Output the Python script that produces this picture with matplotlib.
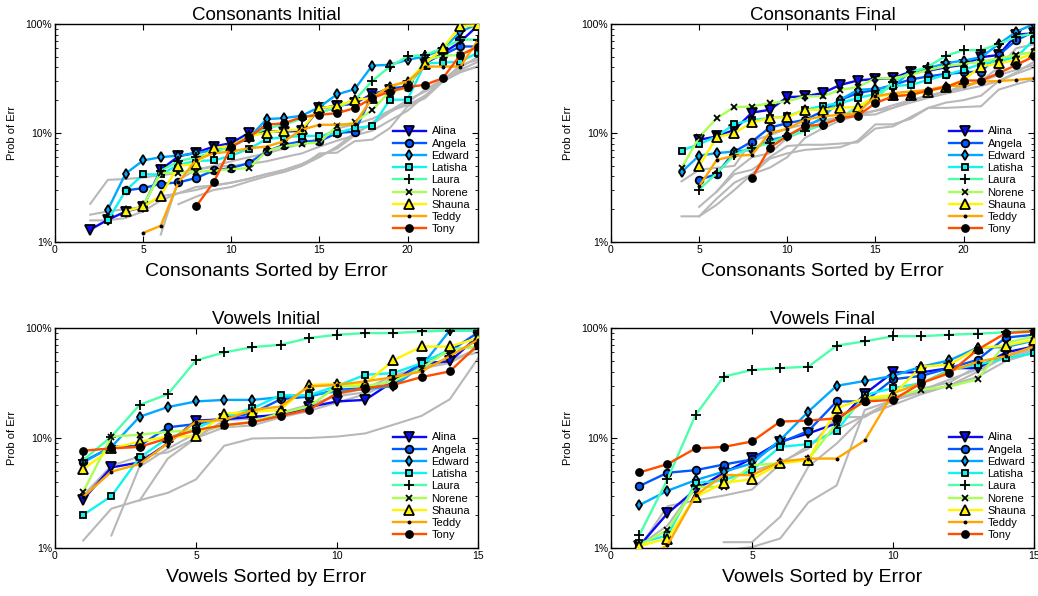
import numpy as np
import matplotlib
matplotlib.use("Agg")
import matplotlib.pyplot as plt
from matplotlib.ticker import LogLocator, NullFormatter

plt.rcParams['font.family'] = ['Liberation Sans', 'DejaVu Sans']

speakers = ["Alina", "Angela", "Edward", "Latisha", "Laura", "Norene", "Shauna", "Teddy", "Tony"]

# ---- Consonants Initial (percent error, series end at x=24) ----
ci_alina = [1.3, 1.6, 1.9, 2.1, 4.6, 6.1, 6.6, 7.5, 8.1, 10.0, 10.3, 10.3, 10.5, 16.9, 17.7, 18.7, 22.8, 24.9, 27.0, 43.6, 53.7, 68.7, 97]
ci_angela = [2.97, 3.12, 3.42, 3.52, 3.86, 4.53, 4.76, 5.3, 6.77, 7.8, 8.4, 8.4, 10.0, 10.3, 22.4, 25.8, 26.4, 45.2, 52, 62.2, 62.2]
ci_edward = [1.98, 4.23, 5.6, 6.0, 6.2, 6.5, 7.0, 7.5, 9.0, 13.4, 13.7, 14.4, 17.3, 22.6, 25.2, 41.6, 42.2, 46.9, 50.4, 58.6, 85, 100]
ci_latisha = [1.58, 2.95, 4.17, 4.17, 5.1, 5.55, 5.6, 6.18, 7.17, 8.78, 9.15, 9.4, 9.4, 10.0, 11.1, 11.6, 20.2, 20.2, 43.6, 44.2, 45.2, 54.7]
ci_laura = [2.1, 4.5, 5.5, 6.0, 6.6, 7.6, 9.5, 11.0, 12.0, 13.5, 15.5, 17.0, 20.0, 30.0, 40.7, 50.4, 52.0, 60.0, 72.0, 72.0]
ci_norene = [2.15, 4.3, 4.34, 4.4, 4.5, 4.66, 4.76, 6.8, 7.6, 7.96, 8.2, 11.6, 12.5, 16.3, 24.0, 25.8, 46.9, 51, 52, 62]
ci_shauna = [1.91, 2.12, 2.66, 5.0, 5.2, 7.3, 7.6, 9.3, 10.1, 10.5, 10.8, 16.9, 17.7, 20.2, 20.9, 26.6, 29.6, 43.0, 60, 96, 97]
ci_teddy = [1.21, 1.41, 3.52, 5.67, 6.5, 6.77, 7.25, 7.5, 8.4, 10.7, 11.9, 11.9, 12.1, 20.9, 27, 29.6, 40.7, 40.7, 40.7, 71]
ci_tony = [2.12, 3.52, 7.5, 9.15, 11.9, 12.3, 14.0, 14.7, 15.2, 16.9, 20.9, 24, 26.4, 27.7, 31.8, 52, 62]
ci_grey = [
    [2.24, 3.72, 3.78, 3.9, 4.1, 4.3, 4.6, 4.9, 5.0, 5.2, 5.5, 6.0, 6.5, 7.5, 8.5, 9.5, 10.5, 13, 16, 22, 30, 38, 45],
    [1.78, 1.91, 2.0, 2.1, 2.62, 2.8, 3.0, 3.3, 3.5, 3.8, 4.2, 4.6, 5.2, 6.2, 7.2, 9.5, 12.5, 16, 18, 22, 30, 36, 41],
    [1.58, 1.58, 1.66, 1.91, 2.4, 2.8, 3.2, 3.3, 3.5, 3.8, 4.2, 4.4, 5.0, 6.5, 6.6, 8.4, 8.7, 11.1, 17.5, 20.9, 29.5, 36.6, 40.7],
    [1.17, 3.7, 4.6, 5.0, 5.5, 6.0, 6.5, 7.2, 8.0, 9.0, 11.0, 12.0, 13.5, 16.0, 20.0, 24.0, 30.0, 42.0, 47.0],
    [2.22, 2.6, 3.0, 3.2, 3.6, 4.0, 4.4, 5.0, 6.0, 7.5, 10.0, 12.0, 15.5, 19.0, 25.0, 31.0, 40.0, 50.0],
]

# ---- Consonants Final ----
cf_alina = [8.66, 9.3, 10.7, 15.4, 16.3, 21.3, 21.7, 23.2, 27.6, 30.3, 31.4, 31.8, 36.6, 37.3, 40.1, 42.2, 49.6, 52, 80, 82]
cf_angela = [3.72, 4.2, 6.76, 8.35, 11.2, 12.3, 13.2, 15.8, 20.1, 23.2, 24.9, 27.6, 31.0, 33.0, 34.8, 36.0, 36.6, 52, 71, 85]
cf_edward = [4.38, 6.2, 6.54, 6.76, 7.0, 8.66, 9.3, 11.4, 13.7, 20.1, 24.9, 25.4, 26.6, 36.6, 39.3, 43.6, 46.2, 49.6, 65.4, 85, 100]
cf_latisha = [6.9, 7.9, 9.3, 12.1, 13.2, 13.7, 14.2, 16.3, 17.8, 18.8, 20.9, 22.8, 27.0, 27.6, 30.7, 34.2, 37.9, 43, 45.9, 49.6, 72]
cf_laura = [3.02, 4.28, 6.3, 7.3, 8.1, 9.3, 10.4, 11.9, 13.7, 17.5, 20.1, 29.6, 35.9, 40.7, 51, 57.6, 57.6, 65.4, 76.5, 82]
cf_norene = [4.76, 9.15, 13.7, 17.3, 17.5, 18.8, 19.5, 21.7, 21.7, 24.9, 26.4, 31.8, 31.8, 34.2, 37.9, 41.1, 43, 45.2, 48.4, 52, 55.5]
cf_shauna = [5.0, 9.15, 10.0, 12.5, 13.7, 14.0, 16.3, 16.3, 17.1, 17.3, 21.7, 22.4, 22.4, 24, 26.4, 30.7, 40.7, 43.6, 46.9, 53.9]
cf_teddy = [3.24, 5.67, 6.17, 6.3, 10.0, 10.9, 13.2, 14.2, 14.7, 15.2, 21.7, 23.2, 24, 24.9, 27, 27, 29.6, 30, 30.7, 31.8]
cf_tony = [3.86, 7.3, 9.4, 11.6, 11.9, 13.7, 14.4, 18.8, 21.7, 22.4, 24.5, 26.4, 30.3, 30.3, 35.4, 42.2, 50.4]
cf_grey = [
    [1.72, 1.72, 2.2, 3.0, 4.2, 5.8, 6.5, 7.0, 7.2, 7.4, 8.5, 12, 12, 13.5, 17, 17, 17.3, 17.6, 25, 28, 31],
    [2.1, 2.9, 4.2, 4.6, 6.0, 7.6, 7.8, 7.8, 8.0, 8.2, 11, 11.5, 14, 17, 19, 20, 22, 30, 35, 40],
    [3.6, 4.6, 4.8, 5.0, 8.5, 9.5, 11, 12, 13, 14, 14.5, 14.8, 17, 20, 22, 24, 26, 30, 40, 60, 65],
    [2.9, 4.5, 6.0, 6.5, 9.0, 10.5, 12.5, 14, 15, 16, 17, 19, 21, 23, 25, 27, 30, 36, 45],
    [1.72, 2.5, 3.5, 4.2, 4.8, 6.0, 9.0, 11, 13, 14.5, 16, 18, 20, 22, 24, 27, 30, 34, 38, 42],
]

# ---- Vowels Initial (series end at x=15) ----
vi_alina = [2.76, 5.4, 6.0, 8.94, 14.4, 14.8, 15.6, 16.2, 19.1, 21.5, 22.2, 32.7, 47.9, 49.7, 84]
vi_angela = [6.1, 8.3, 8.5, 12.5, 13.4, 15.1, 16.8, 22.5, 23.8, 27.4, 28.4, 30.4, 48.6, 61.5, 91]
vi_edward = [6.0, 8.3, 15.6, 19.1, 21.5, 22.2, 22.2, 23.5, 24.5, 26.5, 28.0, 29.5, 45, 95, 95]
vi_latisha = [2.0, 2.96, 6.66, 9.95, 12.3, 15.6, 18.6, 24.5, 24.5, 29.7, 37.6, 38.9, 47.9, 63.6, 68]
vi_laura = [6.3, 10.3, 20.0, 25.0, 50.8, 60.0, 67.0, 70.4, 81.0, 86.8, 89.9, 89.9, 93.0, 94.6, 94.6]
vi_norene = [3.24, 10.3, 10.7, 11.4, 11.8, 12.8, 14.1, 16.8, 19.3, 29.4, 29.7, 32.7, 43.2, 63.6, 68]
vi_shauna = [5.2, 8.05, 9.26, 10.3, 10.4, 16.7, 17.3, 18.0, 30.4, 31.0, 31.0, 50.8, 67.9, 67.9, 81]
vi_teddy = [2.92, 4.94, 5.8, 8.94, 14.1, 14.6, 18.0, 19.3, 29.4, 30.4, 32.7, 35.8, 40.3, 55.4, 78]
vi_tony = [7.66, 8.05, 8.3, 9.95, 11.8, 13.1, 13.9, 15.9, 18.0, 25.5, 28.4, 30.4, 35.8, 40.3, 70.4]
vi_grey = [
    [1.17, 2.28, 2.72, 3.17, 4.2, 8.5, 9.9, 10.0, 10.0, 10.3, 11.0, 13.2, 15.9, 22.5, 53],
    [1.3, 5.5, 8.0, 11, 13, 14, 16, 19, 25, 28, 37, 44, 50, 65],
    [3.0, 5.6, 6.8, 7.4, 10, 12.5, 13, 15.4, 17.6, 21, 25, 33, 45, 52, 60],
    [2.7, 6.5, 10, 14.5, 15, 17, 20, 24, 26, 35, 43, 48, 66],
]

# ---- Vowels Final ----
vf_alina = [1.04, 2.06, 3.4, 4.83, 6.52, 9.26, 11.0, 13.6, 25.2, 39.5, 39.5, 43.2, 43.2, 60, 68]
vf_angela = [3.65, 4.83, 5.1, 5.74, 6.38, 9.06, 11.6, 21.5, 21.5, 34.2, 36.7, 43.2, 51.4, 81.8, 86.8]
vf_edward = [2.45, 3.31, 4.14, 4.94, 5.88, 9.6, 17.4, 29.8, 33.0, 36.7, 44.5, 50.8, 66.4, 67.0, 77]
vf_latisha = [1.11, 1.3, 3.9, 4.14, 5.1, 8.3, 8.8, 11.6, 24.6, 28.4, 31.5, 41.6, 46.4, 53.2, 59]
vf_laura = [1.3, 4.2, 16.2, 36.2, 41.5, 43.2, 44.5, 69.2, 75.6, 84.2, 84.2, 86.8, 88.8, 91.4, 94.8]
vf_norene = [1.06, 1.45, 3.6, 3.6, 5.67, 5.88, 6.38, 13.6, 22.2, 23.7, 27.4, 29.4, 34.2, 73.1, 84]
vf_shauna = [1.04, 1.22, 2.92, 3.9, 4.23, 5.88, 6.3, 18.6, 23.0, 24.6, 44.5, 46.4, 65.8, 69.2, 78.4]
vf_teddy = [0.75, 1.06, 3.02, 4.6, 4.6, 6.1, 6.5, 6.5, 9.5, 25.5, 31.5, 40.2, 49.3, 55.4, 68]
vf_tony = [4.86, 5.78, 8.05, 8.3, 9.3, 14.1, 14.4, 15.1, 21.5, 22.2, 31.5, 38.9, 63.6, 89.9, 93]
vf_grey = [
    [1.13, 1.13, 1.92, 5.5, 8.9, 16, 22, 26, 30, 36, 50, 60],
    [0.95, 1.02, 1.22, 2.6, 3.7, 18, 22, 28, 32, 45, 55, 62],
    [1.0, 2.4, 2.7, 3.0, 3.4, 5.8, 8.5, 12, 16, 20, 25, 30, 40, 55, 65],
    [1.05, 1.6, 3.6, 4.2, 5.0, 6.0, 8.0, 15.5, 15.5, 22, 27, 34, 42, 55, 70],
]

# ---- styles ----
colors = ["#0a0af5", "#0058ff", "#00a8ff", "#10f4f0", "#4dffaa", "#a8ff55", "#fff500", "#ffa600", "#ff4e00"]
markers = ["v", "o", "d", "s", "+", "x", "^", ".", "o"]
msizes = [6.5, 5.5, 5.5, 4.8, 6.5, 4.2, 7, 3, 5]
grey_color = "#b8b8b8"

panels = [
    ("Consonants Initial", "Consonants Sorted by Error", 24,
     [ci_alina, ci_angela, ci_edward, ci_latisha, ci_laura, ci_norene, ci_shauna, ci_teddy, ci_tony], ci_grey),
    ("Consonants Final", "Consonants Sorted by Error", 24,
     [cf_alina, cf_angela, cf_edward, cf_latisha, cf_laura, cf_norene, cf_shauna, cf_teddy, cf_tony], cf_grey),
    ("Vowels Initial", "Vowels Sorted by Error", 15,
     [vi_alina, vi_angela, vi_edward, vi_latisha, vi_laura, vi_norene, vi_shauna, vi_teddy, vi_tony], vi_grey),
    ("Vowels Final", "Vowels Sorted by Error", 15,
     [vf_alina, vf_angela, vf_edward, vf_latisha, vf_laura, vf_norene, vf_shauna, vf_teddy, vf_tony], vf_grey),
]

W, H = 1038, 596
fig = plt.figure(figsize=(W / 100, H / 100), dpi=100)
boxes = [(55, 24, 478, 242), (611, 24, 1034, 242), (55, 328, 478, 548), (611, 328, 1034, 548)]

for (title, xlabel, nmax, series, greys), (x0, y0, x1, y1) in zip(panels, boxes):
    ax = fig.add_axes([x0 / W, 1 - y1 / H, (x1 - x0) / W, (y1 - y0) / H])
    for g in greys:
        xs = np.arange(nmax - len(g) + 1, nmax + 1)
        ax.plot(xs, g, color=grey_color, lw=1.5, zorder=1)
    for i, (name, vals) in enumerate(zip(speakers, series)):
        xs = np.arange(nmax - len(vals) + 1, nmax + 1)
        face = "black" if name in ("Tony", "Teddy") else colors[i]
        ax.plot(xs, vals, color=colors[i], lw=1.7, marker=markers[i], ms=msizes[i],
                mec="black", mfc=face, mew=1.3, label=name, zorder=2 + i * 0.1)
    ax.set_yscale("log")
    ax.set_ylim(1, 100)
    ax.set_xlim(0, nmax)
    ax.set_yticks([1, 10, 100])
    ax.set_yticklabels(["1%", "10%", "100%"])
    ax.yaxis.set_minor_locator(LogLocator(base=10, subs=np.arange(2, 10)))
    ax.yaxis.set_minor_formatter(NullFormatter())
    ax.set_xticks(np.arange(0, nmax + 1, 5))
    ax.tick_params(axis="both", which="both", direction="in", top=True, right=True,
                   labelsize=7.5, pad=2)
    ax.tick_params(which="major", length=4, width=0.8)
    ax.tick_params(which="minor", length=2, width=0.6)
    for s in ax.spines.values():
        s.set_linewidth(1.0)
    ax.set_title(title, fontsize=13.5, pad=2)
    ax.set_xlabel(xlabel, fontsize=14, labelpad=6)
    ax.set_ylabel("Prob of Err", fontsize=8, labelpad=6)
    ax.legend(loc="lower right", frameon=False, fontsize=8, handlelength=3.0,
              labelspacing=0.2, handletextpad=0.5, borderaxespad=0.3,
              bbox_to_anchor=(1.0, 0.0))

fig.savefig("out.png", dpi=100)
